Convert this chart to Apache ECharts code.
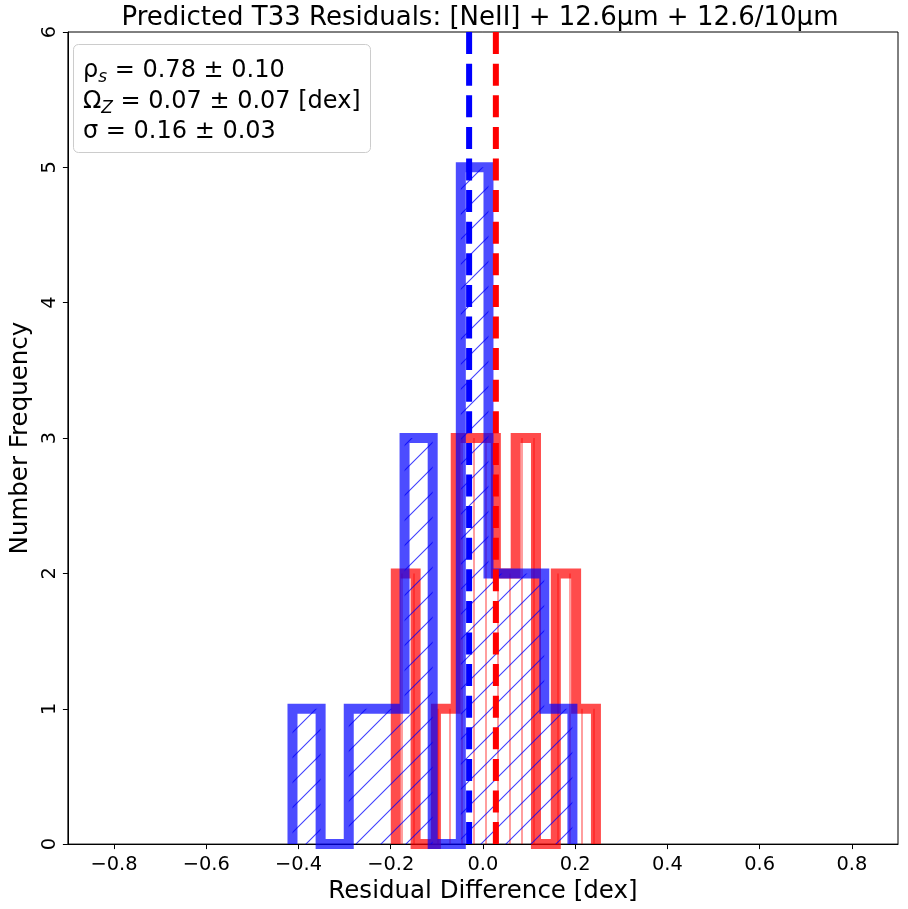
<!DOCTYPE html>
<html>
<head>
<meta charset="utf-8">
<script src="https://cdn.jsdelivr.net/npm/echarts@6/dist/echarts.min.js"></script>
<style>
  html, body { margin: 0; padding: 0; background: #fff; }
  #main { width: 908px; height: 909px; }
</style>
</head>
<body>
<div id="main"></div>
<script>
// histogram data
var xTicks = [-0.8, -0.6, -0.4, -0.2, 0.0, 0.2, 0.4, 0.6, 0.8];
var yTicks = [0, 1, 2, 3, 4, 5, 6];
var blueEdges = [-0.413, -0.352, -0.291, -0.230, -0.170, -0.109, -0.048, 0.012, 0.073, 0.133, 0.194];
var blueCounts = [1, 0, 1, 1, 3, 0, 5, 2, 2, 1];
var redEdges = [-0.189, -0.146, -0.102, -0.059, -0.015, 0.028, 0.071, 0.115, 0.158, 0.202, 0.245];
var redCounts = [2, 0, 1, 3, 3, 2, 3, 0, 2, 1];
var blueMedian = -0.030;
var redMedian = 0.028;
var statLines = ['0.78 ± 0.10', '0.07 ± 0.07 [dex]', '0.16 ± 0.03'];

var FONT = 'DejaVu Sans';

// outline of a step histogram, from the bin edges and counts
function stepPoints(edges, counts) {
    var pts = [[edges[0], 0]];
    counts.forEach(function (c, i) {
        pts.push([edges[i], c]);
        pts.push([edges[i + 1], c]);
    });
    pts.push([edges[edges.length - 1], 0]);
    // drop repeated points
    return pts.filter(function (p, i) {
        return i === 0 || p[0] !== pts[i - 1][0] || p[1] !== pts[i - 1][1];
    });
}

// hatch patterns like matplotlib '/' and '|'
function hatchPattern(kind) {
    var c = document.createElement('canvas');
    var ctx = c.getContext('2d');
    if (kind === '/') {
        var s = 25;
        c.width = s; c.height = s;
        ctx.strokeStyle = 'rgba(0,0,255,0.75)';
        ctx.lineWidth = 1.1;
        ctx.beginPath();
        ctx.moveTo(-1, s + 1); ctx.lineTo(s + 1, -1);
        ctx.moveTo(-1, 1); ctx.lineTo(1, -1);
        ctx.moveTo(s - 1, s + 1); ctx.lineTo(s + 1, s - 1);
        ctx.stroke();
    } else {
        c.width = 12; c.height = 4;
        ctx.fillStyle = 'rgba(255,0,0,0.38)';
        ctx.fillRect(5, 0, 2, 4);
    }
    return { image: c, repeat: 'repeat' };
}

function fmtTick(v) {
    var s = Math.abs(v).toFixed(1);
    return v < 0 ? '\u2212' + s : s;
}

var myChart = echarts.init(document.getElementById('main'), null, { renderer: 'canvas' });

option = {
    animation: false,
    backgroundColor: '#fff',
    title: [
        {
            text: 'Predicted T33 Residuals: [NeII] + 12.6μm + 12.6/10μm',
            left: 480,
            top: 5,
            padding: 0,
            textAlign: 'center',
            textStyle: { fontFamily: FONT, fontSize: 26, fontWeight: 'normal', color: '#000' }
        },
        {
            text: '{m|ρ}{s|s}{m| = ' + statLines[0] + '}\n' +
                  '{m|Ω}{s|Z}{m| = ' + statLines[1] + '}\n' +
                  '{m|σ = ' + statLines[2] + '}',
            left: 73,
            top: 44,
            padding: [12, 10, 5, 10],
            borderColor: '#cccccc',
            borderWidth: 1,
            borderRadius: 5,
            backgroundColor: 'rgba(255,255,255,0.8)',
            textStyle: {
                fontFamily: FONT, fontSize: 24, fontWeight: 'normal', color: '#000',
                lineHeight: 30.5,
                rich: {
                    m: { fontFamily: FONT, fontSize: 24, color: '#000', lineHeight: 30.5 },
                    s: { fontFamily: FONT, fontSize: 17, fontStyle: 'italic', color: '#000',
                         lineHeight: 22, verticalAlign: 'bottom' }
                }
            }
        }
    ],
    grid: {
        left: 61,
        right: 10,
        top: 32,
        bottom: 61,
        show: true,
        borderColor: '#000',
        borderWidth: 1,
        backgroundColor: 'transparent'
    },
    xAxis: {
        type: 'value',
        min: -0.9,
        max: 0.9,
        name: 'Residual Difference [dex]',
        nameLocation: 'middle',
        nameGap: 29,
        nameTextStyle: { fontFamily: FONT, fontSize: 24.5, color: '#000' },
        axisLine: { show: true, onZero: false, lineStyle: { color: '#000', width: 1 } },
        axisTick: { show: true, length: 5, customValues: xTicks, lineStyle: { color: '#000' } },
        axisLabel: {
            customValues: xTicks,
            formatter: fmtTick,
            margin: 11,
            fontFamily: FONT, fontSize: 19.4, color: '#000'
        },
        splitLine: { show: false }
    },
    yAxis: {
        type: 'value',
        min: 0,
        max: 6,
        interval: 1,
        name: 'Number Frequency',
        nameLocation: 'middle',
        nameGap: 27,
        nameTextStyle: { fontFamily: FONT, fontSize: 24.5, color: '#000' },
        axisLine: { show: true, onZero: false, lineStyle: { color: '#000', width: 1 } },
        axisTick: { show: true, length: 5, lineStyle: { color: '#000' } },
        axisLabel: {
            rotate: 90,
            margin: 8,
            fontFamily: FONT, fontSize: 19.4, color: '#000'
        },
        splitLine: { show: false }
    },
    series: [
        {
            name: 'red',
            type: 'line',
            data: stepPoints(redEdges, redCounts),
            symbol: 'none',
            lineStyle: { color: 'rgba(255,0,0,0.7)', width: 10, join: 'miter', cap: 'butt' },
            areaStyle: { color: hatchPattern('|'), opacity: 1 },
            z: 2
        },
        {
            name: 'blue',
            type: 'line',
            data: stepPoints(blueEdges, blueCounts),
            symbol: 'none',
            lineStyle: { color: 'rgba(0,0,255,0.7)', width: 10, join: 'miter', cap: 'butt' },
            areaStyle: { color: hatchPattern('/'), opacity: 1 },
            z: 3
        },
        {
            name: 'blue median',
            type: 'line',
            data: [[blueMedian, 0], [blueMedian, 6]],
            symbol: 'none',
            lineStyle: { color: '#0000ff', width: 6, type: [22, 9.6], cap: 'butt' },
            z: 4
        },
        {
            name: 'red median',
            type: 'line',
            data: [[redMedian, 0], [redMedian, 6]],
            symbol: 'none',
            lineStyle: { color: '#ff0000', width: 6, type: [22, 9.6], cap: 'butt' },
            z: 4
        }
    ]
};

myChart.setOption(option);
</script>
</body>
</html>
